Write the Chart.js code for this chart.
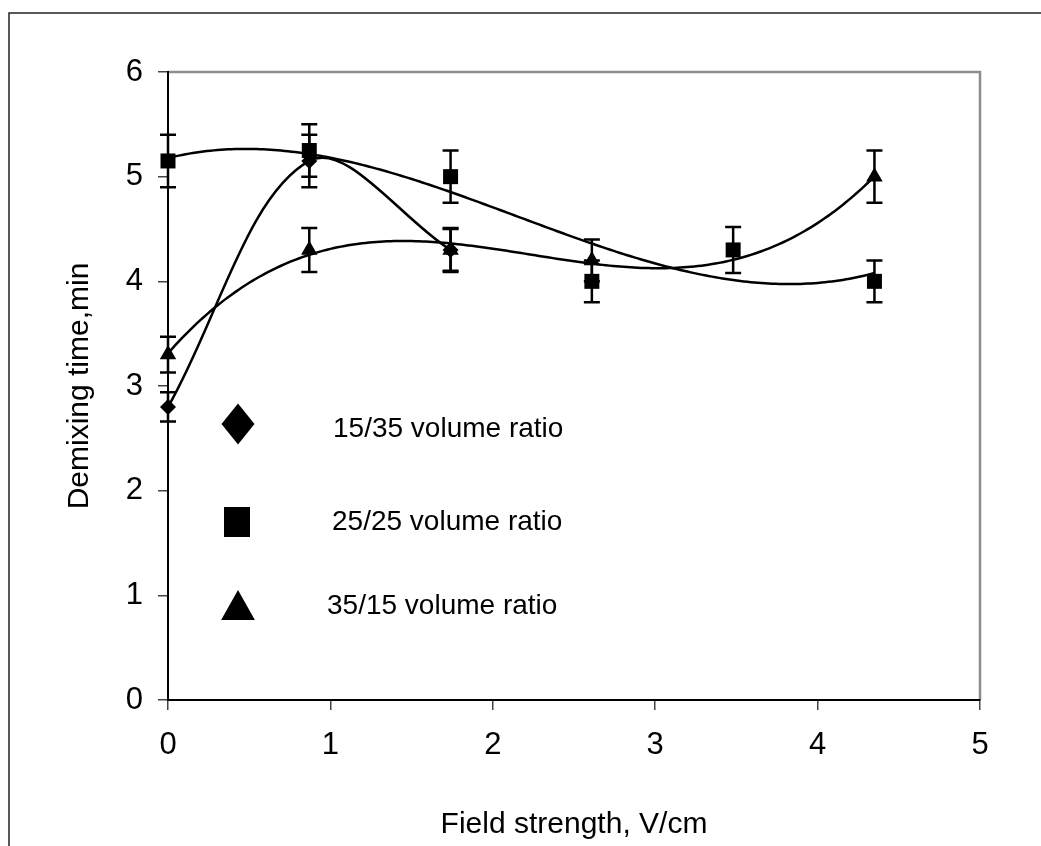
<!DOCTYPE html>
<html>
<head>
<meta charset="utf-8">
<title>Demixing time vs field strength</title>
<script src="https://cdn.jsdelivr.net/npm/chart.js@4.4.1/dist/chart.umd.min.js"></script>
<style>
  html, body { margin: 0; padding: 0; background: #fff; }
  canvas { display: block; }
</style>
</head>
<body>
<canvas id="chart" width="1041" height="846"></canvas>
<script>
// field strength, V/cm
const x1535 = [0, 0.87, 1.74];
const x2525 = [0, 0.87, 1.74, 2.61, 3.48, 4.35];
const x3515 = [0, 0.87, 1.74, 2.61, 4.35];

// demixing time, min
const y1535 = [2.8, 5.15, 4.3];
const y2525 = [5.15, 5.25, 5.0, 4.0, 4.3, 4.0];
const y3515 = [3.3, 4.3, 4.3, 4.2, 5.0];

// error bars (+/-)
const err1535 = [0.14, 0.25, 0.2];
const err2525 = [0.25, 0.25, 0.25, 0.2, 0.22, 0.2];
const err3515 = [0.17, 0.21, 0.21, 0.2, 0.25];

const seriesNames = ['15/35 volume ratio', '25/25 volume ratio', '35/15 volume ratio'];
const xTicks = [0, 1, 2, 3, 4, 5];
const yTicks = [0, 1, 2, 3, 4, 5, 6];

const FONT = "'Liberation Sans', Arial, sans-serif";

function pts(xs, ys) {
  return xs.map((x, i) => ({ x: x, y: ys[i] }));
}

// least squares polynomial (cubic trendline like the spreadsheet)
function polyFit(xs, ys, deg) {
  const n = deg + 1;
  const A = [];
  for (let r = 0; r < n; r++) {
    A.push([]);
    for (let c = 0; c < n; c++) {
      let s = 0;
      xs.forEach(x => { s += Math.pow(x, r + c); });
      A[r].push(s);
    }
    let b = 0;
    xs.forEach((x, i) => { b += ys[i] * Math.pow(x, r); });
    A[r].push(b);
  }
  for (let i = 0; i < n; i++) {
    let p = i;
    for (let k = i + 1; k < n; k++) if (Math.abs(A[k][i]) > Math.abs(A[p][i])) p = k;
    [A[i], A[p]] = [A[p], A[i]];
    for (let k = i + 1; k < n; k++) {
      const f = A[k][i] / A[i][i];
      for (let j = i; j <= n; j++) A[k][j] -= f * A[i][j];
    }
  }
  const coef = new Array(n).fill(0);
  for (let i = n - 1; i >= 0; i--) {
    let s = A[i][n];
    for (let j = i + 1; j < n; j++) s -= A[i][j] * coef[j];
    coef[i] = s / A[i][i];
  }
  return coef;
}

const trendlines = [
  { xs: x2525, coef: polyFit(x2525, y2525, 3) },
  { xs: x3515, coef: polyFit(x3515, y3515, 3) }
];

const errorBars = [err1535, err2525, err3515];

const framePlugin = {
  id: 'frame',
  beforeDraw(chart) {
    const ctx = chart.ctx;
    const a = chart.chartArea;
    ctx.save();
    ctx.strokeStyle = '#222';
    ctx.lineWidth = 1.5;
    ctx.beginPath();
    ctx.moveTo(9, 846);
    ctx.lineTo(9, 13);
    ctx.lineTo(1041, 13);
    ctx.stroke();
    // grey top / right edge of plot area
    ctx.strokeStyle = '#8c8c8c';
    ctx.lineWidth = 2.5;
    ctx.beginPath();
    ctx.moveTo(a.left, a.top);
    ctx.lineTo(a.right, a.top);
    ctx.lineTo(a.right, a.bottom);
    ctx.stroke();
    ctx.restore();
  }
};

const trendPlugin = {
  id: 'trend',
  beforeDatasetsDraw(chart) {
    const ctx = chart.ctx;
    const xs = chart.scales.x, ys = chart.scales.y;
    ctx.save();
    ctx.strokeStyle = '#000';
    ctx.lineWidth = 2.5;
    trendlines.forEach(t => {
      const x0 = Math.min(...t.xs), x1 = Math.max(...t.xs);
      ctx.beginPath();
      for (let k = 0; k <= 200; k++) {
        const x = x0 + (x1 - x0) * k / 200;
        let y = 0;
        t.coef.forEach((c, p) => { y += c * Math.pow(x, p); });
        const px = xs.getPixelForValue(x), py = ys.getPixelForValue(y);
        if (k === 0) ctx.moveTo(px, py); else ctx.lineTo(px, py);
      }
      ctx.stroke();
    });
    ctx.restore();
  }
};

const errorBarPlugin = {
  id: 'errorBars',
  afterDatasetsDraw(chart) {
    const ctx = chart.ctx;
    const ys = chart.scales.y;
    ctx.save();
    ctx.strokeStyle = '#000';
    ctx.lineWidth = 2.5;
    chart.data.datasets.forEach((ds, di) => {
      const meta = chart.getDatasetMeta(di);
      meta.data.forEach((el, i) => {
        const v = ds.data[i].y, e = errorBars[di][i];
        const top = ys.getPixelForValue(v + e), bot = ys.getPixelForValue(v - e);
        ctx.beginPath();
        ctx.moveTo(el.x, top); ctx.lineTo(el.x, bot);
        ctx.moveTo(el.x - 8, top); ctx.lineTo(el.x + 8, top);
        ctx.moveTo(el.x - 8, bot); ctx.lineTo(el.x + 8, bot);
        ctx.stroke();
      });
    });
    ctx.restore();
  }
};

const legendPlugin = {
  id: 'innerLegend',
  afterDraw(chart) {
    const ctx = chart.ctx;
    const items = [
      { style: 'rectRot', r: 20.5, w: 33, mx: 238, my: 424, tx: 333, ty: 429 },
      { style: 'rect', r: 21.2, w: 26, mx: 237, my: 522, tx: 332, ty: 522 },
      { style: 'triangle', r: 20, w: 39, mx: 238, my: 610, tx: 327, ty: 606 }
    ];
    ctx.save();
    items.forEach((it, i) => {
      ctx.fillStyle = '#000';
      ctx.strokeStyle = '#000';
      Chart.helpers.drawPointLegend(ctx, { pointStyle: it.style, radius: it.r, rotation: 0, borderWidth: 0 }, it.mx, it.my, it.w);
      ctx.font = '28px ' + FONT;
      ctx.textAlign = 'left';
      ctx.textBaseline = 'middle';
      ctx.fillText(seriesNames[i], it.tx, it.ty);
    });
    ctx.restore();
  }
};

new Chart(document.getElementById('chart'), {
  type: 'scatter',
  data: {
    datasets: [
      {
        label: seriesNames[0],
        data: pts(x1535, y1535),
        showLine: true,
        tension: 0.35,
        clip: false,
        borderColor: '#000',
        borderWidth: 2.5,
        pointStyle: 'rectRot',
        pointRadius: 8,
        pointBackgroundColor: '#000',
        pointBorderWidth: 0
      },
      {
        label: seriesNames[1],
        data: pts(x2525, y2525),
        clip: false,
        pointStyle: 'rect',
        pointRadius: 10.6,
        pointBackgroundColor: '#000',
        pointBorderWidth: 0
      },
      {
        label: seriesNames[2],
        data: pts(x3515, y3515),
        clip: false,
        pointStyle: 'triangle',
        pointRadius: 9.5,
        pointBackgroundColor: '#000',
        pointBorderWidth: 0
      }
    ]
  },
  options: {
    responsive: false,
    animation: false,
    events: [],
    layout: { padding: { left: 0, top: 72, right: 61, bottom: 0 } },
    plugins: {
      legend: { display: false },
      tooltip: { enabled: false }
    },
    scales: {
      x: {
        type: 'linear',
        min: 0,
        max: 5,
        afterBuildTicks(axis) { axis.ticks = xTicks.map(v => ({ value: v })); },
        afterFit(axis) { axis.height = 146; },
        ticks: { color: '#000', font: { family: FONT, size: 31 }, padding: 17 },
        grid: { drawOnChartArea: false, drawTicks: true, tickLength: 10, color: '#444', lineWidth: 1.5 },
        border: { display: true, color: '#000', width: 2 },
        title: { display: true, text: 'Field strength, V/cm', color: '#000', font: { family: FONT, size: 30 }, padding: { top: 0, bottom: 3 } }
      },
      y: {
        type: 'linear',
        min: 0,
        max: 6,
        afterBuildTicks(axis) { axis.ticks = yTicks.map(v => ({ value: v })); },
        afterFit(axis) { axis.width = 168; },
        ticks: { color: '#000', font: { family: FONT, size: 31 }, padding: 15 },
        grid: { drawOnChartArea: false, drawTicks: true, tickLength: 10, color: '#444', lineWidth: 1.5 },
        border: { display: true, color: '#000', width: 2 },
        title: { display: true, text: 'Demixing time,min', color: '#000', font: { family: FONT, size: 30 }, padding: { top: 62, bottom: 0 } }
      }
    }
  },
  plugins: [framePlugin, trendPlugin, errorBarPlugin, legendPlugin]
});
</script>
</body>
</html>
